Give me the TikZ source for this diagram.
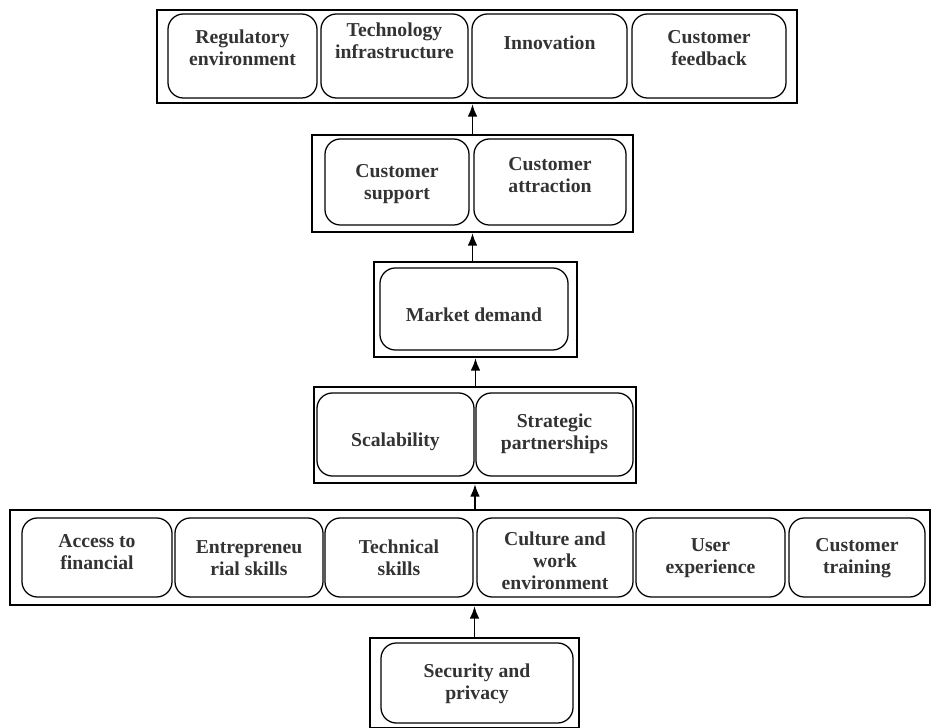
\documentclass[tikz,border=0pt]{standalone}
\usepackage{fontspec}
\setmainfont{Liberation Serif}
\usetikzlibrary{arrows.meta}

\begin{document}
\begin{tikzpicture}[x=0.025cm,y=-0.025cm,>={Latex[length=9pt,width=7pt]},
  frame/.style={draw,line width=1.5pt,inner sep=0pt},
  cell/.style={draw,line width=0.9pt,rounded corners=11pt,inner sep=0pt},
  txt/.style={align=center,inner sep=0pt,text=black!80,
    font=\fontsize{14}{15.6}\selectfont\bfseries}]
\useasboundingbox (0,0) rectangle (936,728);

% top row
\node[frame,minimum width=16cm,minimum height=2.325cm] (topbox) at (477,56.5) {};
\node[cell,minimum width=3.725cm,minimum height=2.1cm] (reg) at (242.5,56) {};
\node[cell,minimum width=3.675cm,minimum height=2.1cm] (tech) at (394.5,56) {};
\node[cell,minimum width=3.875cm,minimum height=2.1cm] (innov) at (549.5,56) {};
\node[cell,minimum width=3.85cm,minimum height=2.1cm] (feed) at (709,56) {};
\node[txt] (regt) at (242.5,48) {Regulatory\\environment};
\node[txt] (techt) at (394.5,41) {Technology\\infrastructure};
\node[txt] (innovt) at (549.5,43) {Innovation};
\node[txt] (feedt) at (709,48) {Customer\\feedback};

% customers
\node[frame,minimum width=8.025cm,minimum height=2.425cm] (custbox) at (472.5,183.5) {};
\node[cell,minimum width=3.6cm,minimum height=2.15cm] (supp) at (397,182) {};
\node[cell,minimum width=3.8cm,minimum height=2.15cm] (attr) at (550,182) {};
\node[txt] (suppt) at (397,184) {Customer\\support};
\node[txt] (attrt) at (550,175) {Customer\\attraction};

% market
\node[frame,minimum width=5.075cm,minimum height=2.375cm] (mktbox) at (475.5,309.5) {};
\node[cell,minimum width=4.7cm,minimum height=2.05cm] (mkt) at (474,309) {};
\node[txt] (mktt) at (474,315) {Market demand};

% scalability
\node[frame,minimum width=8.05cm,minimum height=2.4cm] (scalbox) at (475,435) {};
\node[cell,minimum width=3.925cm,minimum height=2.075cm] (scal) at (395.5,434.5) {};
\node[cell,minimum width=3.925cm,minimum height=2.075cm] (part) at (554.5,434.5) {};
\node[txt] (scalt) at (395.5,442) {Scalability};
\node[txt] (partt) at (554.5,434) {Strategic\\partnerships};

% skills row
\node[frame,minimum width=23cm,minimum height=2.375cm] (rowbox) at (470,557.5) {};
\node[cell,minimum width=3.75cm,minimum height=1.975cm] (acc) at (97,557.5) {};
\node[cell,minimum width=3.7cm,minimum height=1.975cm] (entr) at (249,557.5) {};
\node[cell,minimum width=3.7cm,minimum height=1.975cm] (techn) at (399,557.5) {};
\node[cell,minimum width=3.9cm,minimum height=1.975cm] (cult) at (555,557.5) {};
\node[cell,minimum width=3.725cm,minimum height=1.975cm] (user) at (710.5,557.5) {};
\node[cell,minimum width=3.4cm,minimum height=1.975cm] (train) at (857,557.5) {};
\node[txt] (acct) at (97,552) {Access to\\financial};
\node[txt] (entrt) at (249,558) {Entrepreneu\\rial skills};
\node[txt] (techntt) at (399,558) {Technical\\skills};
\node[txt] (cultt) at (555,561) {Culture and\\work\\environment};
\node[txt] (usert) at (710.5,558) {User\\experience};
\node[txt] (traint) at (857,558) {Customer\\training};

% security
\node[frame,minimum width=5.225cm,minimum height=2.25cm] (secbox) at (474.5,683) {};
\node[cell,minimum width=4.8cm,minimum height=2cm] (sec) at (477,683) {};
\node[txt] (sect) at (477,684) {Security and\\privacy};

\draw[->,line width=1.4pt] (secbox.north) -- (secbox.north |- rowbox.south);
\draw[->,line width=1.4pt] (scalbox.south |- rowbox.north) -- (scalbox.south);
\draw[->,line width=1.4pt] (mktbox.south |- scalbox.north) -- (mktbox.south);
\draw[->,line width=1.4pt] (custbox.south |- mktbox.north) -- (custbox.south);
\draw[->,line width=1.4pt] (custbox.north) -- (custbox.north |- topbox.south);
\end{tikzpicture}
\end{document}
